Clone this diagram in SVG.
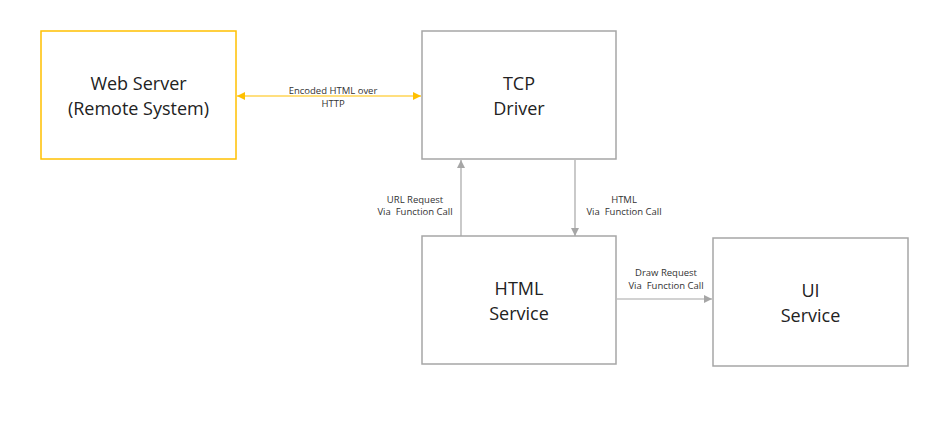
<svg xmlns="http://www.w3.org/2000/svg" width="948" height="423" viewBox="0 0 948 423">
<style>
.box{fill:#fff;stroke:#A6A6A6;stroke-width:1.5}
.orange{stroke:#FFC000}
.t{font-family:"Open Sans","Liberation Sans",sans-serif;font-size:18px;fill:#222;text-anchor:middle}
.s{font-family:"Open Sans","Liberation Sans",sans-serif;font-size:9.5px;fill:#333;text-anchor:middle;white-space:pre}
.c{fill:none;stroke:#A6A6A6;stroke-width:1.2}
.co{fill:none;stroke:#FFC000;stroke-width:1.2}
</style>
<defs>
<marker id="ag" viewBox="0 0 10 10" refX="10" refY="5" markerWidth="8" markerHeight="8" markerUnits="userSpaceOnUse" orient="auto-start-reverse"><path d="M0,0 L10,5 L0,10 z" fill="#A6A6A6"/></marker>
<marker id="ao" viewBox="0 0 10 10" refX="10" refY="5" markerWidth="8" markerHeight="8" markerUnits="userSpaceOnUse" orient="auto-start-reverse"><path d="M0,0 L10,5 L0,10 z" fill="#FFC000"/></marker>
</defs>
<rect width="948" height="423" fill="#fff"/>
<g id="connectors">
<line class="co" x1="237" y1="96" x2="421" y2="96" marker-start="url(#ao)" marker-end="url(#ao)"/>
<text class="s" x="333" y="94">Encoded HTML over</text>
<text class="s" x="333" y="107">HTTP</text>
<line class="c" x1="461" y1="236" x2="461" y2="160" marker-end="url(#ag)"/>
<text class="s" x="415" y="203">URL Request</text>
<text class="s" x="415" y="215" xml:space="preserve">Via  Function Call</text>
<line class="c" x1="575" y1="160" x2="575" y2="236" marker-end="url(#ag)"/>
<text class="s" x="624" y="203">HTML</text>
<text class="s" x="624" y="215" xml:space="preserve">Via  Function Call</text>
<line class="c" x1="617" y1="299" x2="712" y2="299" marker-end="url(#ag)"/>
<text class="s" x="666" y="276">Draw Request</text>
<text class="s" x="666" y="289" xml:space="preserve">Via  Function Call</text>
</g>
<g id="web-server">
<rect class="box orange" x="41" y="31" width="195" height="128"/>
<text class="t" x="138.5" y="90">Web Server</text>
<text class="t" x="138.5" y="115">(Remote System)</text>
</g>
<g id="tcp-driver">
<rect class="box" x="422" y="31" width="194" height="128"/>
<text class="t" x="519" y="90">TCP</text>
<text class="t" x="519" y="115">Driver</text>
</g>
<g id="html-service">
<rect class="box" x="422" y="236" width="194" height="128"/>
<text class="t" x="519" y="295">HTML</text>
<text class="t" x="519" y="320">Service</text>
</g>
<g id="ui-service">
<rect class="box" x="713" y="238" width="195" height="128"/>
<text class="t" x="810.5" y="297">UI</text>
<text class="t" x="810.5" y="322">Service</text>
</g>
</svg>
